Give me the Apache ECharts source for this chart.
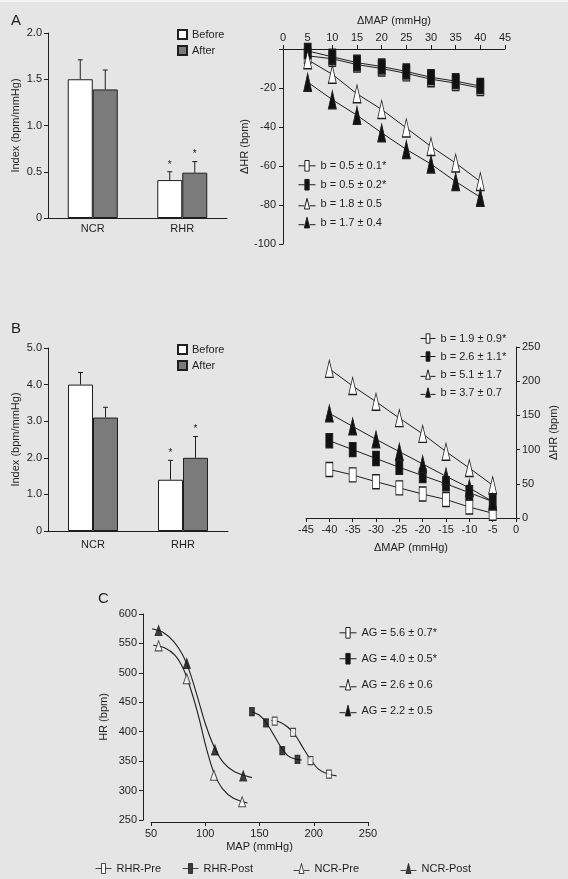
<!DOCTYPE html>
<html>
<head>
<meta charset="utf-8">
<script src="https://cdn.jsdelivr.net/npm/echarts@6/dist/echarts.min.js"></script>
<style>
  html, body { margin: 0; padding: 0; background: #e5e5e5; }
  #chart { width: 568px; height: 879px; }
</style>
</head>
<body>
<div id="chart"></div>
<script>
// ---- data ----
const barCats = ['NCR', 'RHR'];
// panel A bars (index, bpm/mmHg)
const aBefore = [1.5, 0.41];
const aBeforeSem = [0.21, 0.09];
const aAfter = [1.39, 0.49];
const aAfterSem = [0.21, 0.12];
// panel B bars
const bBefore = [4.0, 1.4];
const bBeforeSem = [0.33, 0.53];
const bAfter = [3.1, 2.0];
const bAfterSem = [0.28, 0.58];
const starred = [0, 1];

// panel A right: dMAP vs dHR
const aMap = [5, 10, 15, 20, 25, 30, 35, 40];
const aOpenSq = [-3.5, -5, -8, -10, -12.5, -15.5, -17.5, -20];
const aFillSq = [-1, -4, -7, -9, -11.5, -14.5, -16.5, -19];
const aOpenTri = [-5.5, -13, -23, -31, -40.5, -50, -58.5, -68];
const aFillTri = [-17, -26, -34, -43, -51.5, -59, -68, -76];
const aNames = ['b = 0.5 ± 0.1*', 'b = 0.5 ± 0.2*', 'b = 1.8 ± 0.5', 'b = 1.7 ± 0.4'];

// panel B right
const bMap = [-40, -35, -30, -25, -20, -15, -10, -5];
const bOpenSq = [71, 63, 53, 44, 35, 27, 16, 7];
const bFillSq = [113, 100, 87, 74, 62, 50, 37, 24];
const bOpenTri = [218, 193, 170, 146, 123, 97, 73, 48];
const bFillTri = [153, 134, 115, 97, 79, 61, 44, 24];
const bNames = ['b = 1.9 ± 0.9*', 'b = 2.6 ± 1.1*', 'b = 5.1 ± 1.7', 'b = 3.7 ± 0.7'];

// panel C: MAP vs HR, measured points
const rhrPre = [[164, 418], [181, 399], [197, 351], [214, 328]];
const rhrPost = [[143, 434], [156, 415], [171, 368], [185, 353]];
const ncrPre = [[57, 546], [83, 490], [108, 326], [134, 281]];
const ncrPost = [[57, 572], [83, 516], [109, 369], [135, 325]];
// panel C: fitted curves
const rhrPreCurve = [[161, 419], [168, 417], [176, 408], [183, 394], [190, 373], [197, 353], [204, 337], [212, 329], [221, 325]];
const rhrPostCurve = [[143, 434], [150, 428], [156, 416], [163, 395], [170, 373], [177, 358], [184, 353], [189, 352]];
const ncrPreCurve = [[52, 547], [62, 543], [72, 530], [80, 506], [87, 470], [94, 425], [101, 372], [108, 330], [116, 303], [126, 287], [139, 279]];
const ncrPostCurve = [[51, 575], [61, 569], [71, 553], [79, 531], [86, 500], [93, 458], [100, 414], [108, 375], [117, 347], [127, 332], [143, 322]];
const agNames = ['AG = 5.6 ± 0.7*', 'AG = 4.0 ± 0.5*', 'AG = 2.6 ± 0.6', 'AG = 2.2 ± 0.5'];
const groupNames = ['RHR-Pre', 'RHR-Post', 'NCR-Pre', 'NCR-Post'];

// ---- styles ----
const FONT = 'Liberation Sans, Arial, sans-serif';
const INK = '#1e1e1e';
const BAR_W = 25;
const txt = { color: INK, fontSize: 11, fontFamily: FONT };
const openStyle = { color: '#ffffff', borderColor: INK, borderWidth: 1 };
const fillStyle = { color: '#111111', borderColor: INK, borderWidth: 1 };
const sqIcon = 'path://M0,6H6M10,6H16M6,1H10V11H6Z';
const triIcon = 'path://M0,8H5.5M10.5,8H16M8,1L10.5,11H5.5Z';
const icons = [sqIcon, sqIcon, triIcon, triIcon];
const iconStyles = [openStyle, fillStyle, openStyle, fillStyle];

function axisBase(extra) {
  return Object.assign({
    axisLine: { show: true, onZero: false, lineStyle: { color: INK, width: 1 } },
    axisTick: { show: true, length: 4, lineStyle: { color: INK } },
    axisLabel: Object.assign({ margin: 6 }, txt),
    splitLine: { show: false },
    nameTextStyle: txt
  }, extra);
}

function errData(means, sems, side) {
  return means.map((m, i) => [i, m, sems[i], side, starred[i]]);
}

function errSeries(x, y, data) {
  return {
    type: 'custom', xAxisIndex: x, yAxisIndex: y, z: 5, silent: true,
    renderItem: function (params, api) {
      const cat = api.value(0), mean = api.value(1), sem = api.value(2);
      const top = api.coord([cat, mean + sem]);
      const base = api.coord([cat, mean]);
      const px = top[0] + api.value(3) * BAR_W / 2;
      const kids = [
        { type: 'line', shape: { x1: px, y1: base[1], x2: px, y2: top[1] }, style: { stroke: INK, lineWidth: 1 } },
        { type: 'line', shape: { x1: px - 2.5, y1: top[1], x2: px + 2.5, y2: top[1] }, style: { stroke: INK, lineWidth: 1 } }
      ];
      if (api.value(4)) {
        kids.push({ type: 'text', style: { x: px, y: top[1] - 2, text: '*', align: 'center', verticalAlign: 'bottom', fontSize: 10, fontFamily: FONT, fill: INK } });
      }
      return { type: 'group', children: kids };
    },
    data: data
  };
}

function lineSeries(name, x, y, xs, ys, symbol, size, style) {
  return {
    name: name, type: 'line', xAxisIndex: x, yAxisIndex: y,
    data: xs.map((v, i) => [v, ys[i]]),
    symbol: symbol, symbolSize: size, showAllSymbol: true,
    lineStyle: { color: INK, width: 1 },
    itemStyle: style
  };
}

function iconLegend(names, left, top, gap, width) {
  return {
    data: names.map((n, i) => ({ name: n, icon: icons[i], itemStyle: iconStyles[i] })),
    left: left, top: top, orient: 'vertical', itemGap: gap, itemWidth: width, itemHeight: 12,
    padding: 0, selectedMode: false, textStyle: txt
  };
}

function oneLegend(name, i, left) {
  return {
    data: [{ name: name, icon: icons[i], itemStyle: iconStyles[i] }],
    left: left, top: 863, itemWidth: 16, itemHeight: 12, padding: 0,
    selectedMode: false, textStyle: txt
  };
}

const chart = echarts.init(document.getElementById('chart'), null, { renderer: 'canvas' });

const option = {
  backgroundColor: '#e5e5e5',
  animation: false,
  textStyle: { fontFamily: FONT },
  graphic: [
    { type: 'rect', shape: { x: 0, y: 0, width: 568, height: 2 }, style: { fill: '#f4f4f4' } },
    { type: 'text', left: 11, top: 13, style: { text: 'A', fontSize: 15, fontFamily: FONT, fill: INK } },
    { type: 'text', left: 11, top: 321, style: { text: 'B', fontSize: 15, fontFamily: FONT, fill: INK } },
    { type: 'text', left: 98, top: 591, style: { text: 'C', fontSize: 15, fontFamily: FONT, fill: INK } }
  ],
  grid: [
    { left: 48, top: 33, width: 179, height: 185 },
    { left: 283, top: 49, width: 222, height: 195 },
    { left: 48, top: 348, width: 180, height: 183 },
    { left: 306, top: 347, width: 210, height: 171 },
    { left: 151, top: 614, width: 217, height: 206 }
  ],
  xAxis: [
    axisBase({ gridIndex: 0, type: 'category', data: barCats, axisTick: { show: false }, axisLabel: Object.assign({ margin: 5 }, txt) }),
    axisBase({ gridIndex: 1, type: 'value', position: 'top', min: 0, max: 45, interval: 5,
      name: 'ΔMAP (mmHg)', nameLocation: 'middle', nameGap: 23 }),
    axisBase({ gridIndex: 2, type: 'category', data: barCats, axisTick: { show: false }, axisLabel: Object.assign({ margin: 8 }, txt) }),
    axisBase({ gridIndex: 3, type: 'value', min: -45, max: 0, interval: 5,
      name: 'ΔMAP (mmHg)', nameLocation: 'middle', nameGap: 24 }),
    axisBase({ gridIndex: 4, type: 'value', min: 50, max: 250, interval: 50, offset: 2,
      name: 'MAP (mmHg)', nameLocation: 'middle', nameGap: 19 })
  ],
  yAxis: [
    axisBase({ gridIndex: 0, type: 'value', min: 0, max: 2, interval: 0.5,
      axisLabel: Object.assign({ margin: 6, formatter: v => v === 0 ? '0' : v.toFixed(1) }, txt),
      name: 'Index (bpm/mmHg)', nameLocation: 'middle', nameGap: 27 }),
    axisBase({ gridIndex: 1, type: 'value', min: -100, max: 0, interval: 20,
      axisLabel: Object.assign({ margin: 7, formatter: v => v === 0 ? '' : String(v) }, txt),
      name: 'ΔHR (bpm)', nameLocation: 'middle', nameGap: 22 }),
    axisBase({ gridIndex: 2, type: 'value', min: 0, max: 5, interval: 1,
      axisLabel: Object.assign({ margin: 6, formatter: v => v === 0 ? '0' : v.toFixed(1) }, txt),
      name: 'Index (bpm/mmHg)', nameLocation: 'middle', nameGap: 27 }),
    axisBase({ gridIndex: 3, type: 'value', position: 'right', min: 0, max: 250, interval: 50,
      axisLabel: Object.assign({ margin: 6 }, txt),
      name: 'ΔHR (bpm)', nameLocation: 'middle', nameGap: 32, nameRotate: 90 }),
    axisBase({ gridIndex: 4, type: 'value', min: 250, max: 600, interval: 50, offset: 8,
      name: 'HR (bpm)', nameLocation: 'middle', nameGap: 34 })
  ],
  legend: [
    { data: ['Before', 'After'], left: 177, top: 29, orient: 'vertical', icon: 'rect', itemWidth: 9, itemHeight: 9,
      itemGap: 5, padding: 0, selectedMode: false, textStyle: txt },
    { data: ['Before', 'After'], left: 177, top: 344, orient: 'vertical', icon: 'rect', itemWidth: 9, itemHeight: 9,
      itemGap: 5, padding: 0, selectedMode: false, textStyle: txt },
    iconLegend(aNames, 298, 160, 7.3, 17),
    iconLegend(bNames, 420, 333, 7, 15),
    iconLegend(agNames, 339, 627, 14.3, 17),
    oneLegend(groupNames[0], 0, 95),
    oneLegend(groupNames[1], 1, 182),
    oneLegend(groupNames[2], 2, 293),
    oneLegend(groupNames[3], 3, 400)
  ],
  series: [
    // panel A bars
    { name: 'Before', type: 'bar', xAxisIndex: 0, yAxisIndex: 0, data: aBefore, barWidth: BAR_W, barGap: '0%',
      itemStyle: { color: '#ffffff', borderColor: INK, borderWidth: 1 } },
    { name: 'After', type: 'bar', xAxisIndex: 0, yAxisIndex: 0, data: aAfter, barWidth: BAR_W, barGap: '0%',
      itemStyle: { color: '#7b7b7b', borderColor: INK, borderWidth: 1 } },
    errSeries(0, 0, errData(aBefore, aBeforeSem, -1)),
    errSeries(0, 0, errData(aAfter, aAfterSem, 1)),
    // panel B bars
    { name: 'Before', type: 'bar', xAxisIndex: 2, yAxisIndex: 2, data: bBefore, barWidth: BAR_W, barGap: '0%',
      itemStyle: { color: '#ffffff', borderColor: INK, borderWidth: 1 } },
    { name: 'After', type: 'bar', xAxisIndex: 2, yAxisIndex: 2, data: bAfter, barWidth: BAR_W, barGap: '0%',
      itemStyle: { color: '#7b7b7b', borderColor: INK, borderWidth: 1 } },
    errSeries(2, 2, errData(bBefore, bBeforeSem, -1)),
    errSeries(2, 2, errData(bAfter, bAfterSem, 1)),
    // panel A right
    lineSeries(aNames[0], 1, 1, aMap, aOpenSq, 'rect', [7, 15], openStyle),
    lineSeries(aNames[1], 1, 1, aMap, aFillSq, 'rect', [7, 15], fillStyle),
    lineSeries(aNames[2], 1, 1, aMap, aOpenTri, 'triangle', [8, 18], openStyle),
    lineSeries(aNames[3], 1, 1, aMap, aFillTri, 'triangle', [8, 18], fillStyle),
    // panel B right
    lineSeries(bNames[0], 3, 3, bMap, bOpenSq, 'rect', [7, 14], openStyle),
    lineSeries(bNames[1], 3, 3, bMap, bFillSq, 'rect', [7, 14], fillStyle),
    lineSeries(bNames[2], 3, 3, bMap, bOpenTri, 'triangle', [8, 17], openStyle),
    lineSeries(bNames[3], 3, 3, bMap, bFillTri, 'triangle', [8, 17], fillStyle),
    // panel C curves
    ...[rhrPreCurve, rhrPostCurve, ncrPreCurve, ncrPostCurve].map((c, i) => ({
      name: agNames[i], type: 'line', xAxisIndex: 4, yAxisIndex: 4, data: c,
      smooth: 0.3, symbol: 'none', lineStyle: { color: INK, width: 1.1 }, z: 2
    })),
    // panel C points
    ...[rhrPre, rhrPost, ncrPre, ncrPost].map((d, i) => ({
      name: groupNames[i], type: 'scatter', xAxisIndex: 4, yAxisIndex: 4, data: d, z: 3,
      symbol: i < 2 ? 'rect' : 'triangle', symbolSize: i < 2 ? [5, 8] : [7, 10],
      itemStyle: iconStyles[i]
    }))
  ]
};

chart.setOption(option);
</script>
</body>
</html>
